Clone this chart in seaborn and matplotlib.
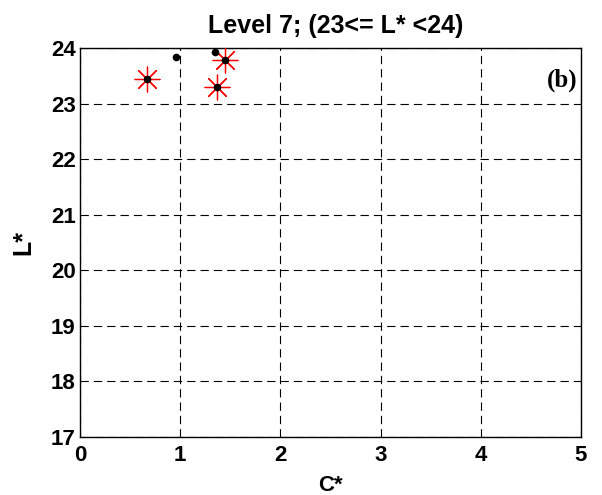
import matplotlib
matplotlib.use("Agg")
import matplotlib.pyplot as plt
import seaborn as sns
import pandas as pd

# data
c_all = [0.96, 1.35, 0.67, 1.45, 1.37]
l_all = [23.83, 23.92, 23.45, 23.78, 23.30]
c_sel = [0.67, 1.45, 1.37]
l_sel = [23.45, 23.78, 23.30]
xticks = [0, 1, 2, 3, 4, 5]
yticks = [17, 18, 19, 20, 21, 22, 23, 24]

sns.set_style("white")
plt.rcParams['font.family'] = ['Liberation Sans', 'DejaVu Sans']
plt.rcParams['text.color'] = 'black'
plt.rcParams['axes.labelcolor'] = 'black'
plt.rcParams['xtick.color'] = 'black'
plt.rcParams['ytick.color'] = 'black'

fig = plt.figure(figsize=(6.02, 4.95), dpi=100)
ax = fig.add_axes([80/602, 58/495, 501/602, 389/495])

df_all = pd.DataFrame({"C": c_all, "L": l_all})
df_sel = pd.DataFrame({"C": c_sel, "L": l_sel})

sns.scatterplot(data=df_sel, x="C", y="L", ax=ax, marker=(8, 2, 0), s=320,
                color="red", linewidth=0.9, edgecolor="red", zorder=3)
sns.scatterplot(data=df_all, x="C", y="L", ax=ax, marker="o", s=30,
                color="black", edgecolor="black", linewidth=0, zorder=4)

ax.set_xlim(0, 5)
ax.set_ylim(17, 24)
ax.set_xticks(xticks)
ax.set_yticks(yticks)
ax.set_xticklabels([str(t) for t in xticks], fontsize=16, fontweight="bold")
ax.set_yticklabels([str(t) for t in yticks], fontsize=16, fontweight="bold")
ax.tick_params(axis="x", direction="in", length=0, pad=6, colors="black")
ax.tick_params(axis="y", direction="in", length=0, pad=3, colors="black")
ax.grid(True, color="black", linestyle=(0, (7.5, 4.5)), linewidth=0.8)
for s in ax.spines.values():
    s.set_color("black")
    s.set_linewidth(1.0)

ax.set_xlabel("C*", fontsize=16, fontweight="bold", labelpad=6, color="black")
ax.set_ylabel("L*", fontsize=18, fontweight="bold", labelpad=11, color="black")
ax.set_title("Level 7; (23<= L* <24)", fontsize=18, fontweight="bold", pad=11,
             x=0.51, color="black")
ax.text(0.994, 0.918, "(b)", transform=ax.transAxes, ha="right", va="center",
        fontsize=18, fontweight="bold", family=["Liberation Serif"], color="black")

fig.savefig("out.png", dpi=100)
